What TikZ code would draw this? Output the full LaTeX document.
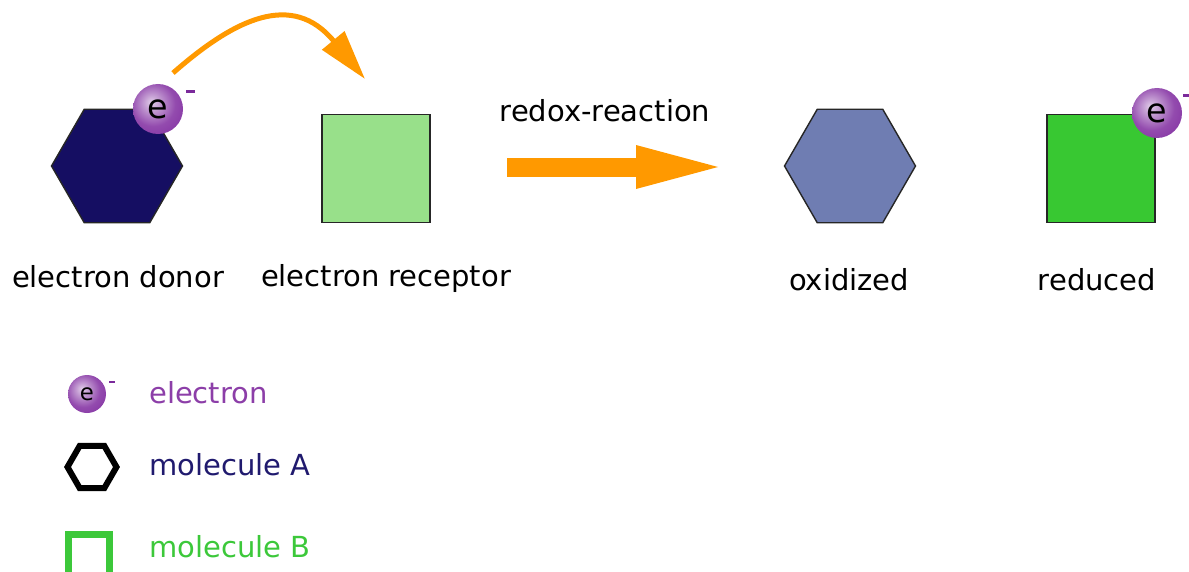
\documentclass[tikz,border=0pt]{standalone}
\usepackage{fontspec}
\setmainfont{DejaVu Sans}
\usetikzlibrary{arrows.meta, shapes.geometric}

\definecolor{donorblue}{RGB}{21,14,98}
\definecolor{oxblue}{RGB}{111,125,178}
\definecolor{recgreen}{RGB}{152,224,138}
\definecolor{redgreen}{RGB}{56,200,50}
\definecolor{hoporange}{RGB}{255,153,0}
\definecolor{epurple}{RGB}{135,55,165}
\definecolor{minuspurple}{RGB}{123,42,155}
\definecolor{txtpurple}{RGB}{140,62,168}
\definecolor{txtnavy}{RGB}{32,26,110}
\definecolor{txtgreen}{RGB}{60,200,58}

\pgfdeclareradialshading{eball}{\pgfpoint{-7bp}{7bp}}{%
  color(0bp)=(epurple!25!white);
  color(8bp)=(epurple!50!white);
  color(22bp)=(epurple!90!white);
  color(34bp)=(epurple);
  color(46bp)=(epurple!85!black);
  color(70bp)=(epurple!85!black)}

\tikzset{
  molhex/.style={regular polygon, regular polygon sides=6, minimum size=2.62cm,
    inner sep=0pt, draw=black!85, line width=0.8pt},
  molsq/.style={rectangle, minimum size=2.16cm, inner sep=0pt, draw=black!85, line width=0.8pt},
  electron/.style={circle, minimum size=1cm, inner sep=0pt, shading=eball,
    font=\fontsize{19}{19}\selectfont},
  eminus/.style={fill=minuspurple, minimum width=0.18cm, minimum height=0.06cm, inner sep=0pt},
  lbl/.style={font=\fontsize{16.5}{20}\selectfont, anchor=base},
  legtxt/.style={font=\fontsize{16.5}{20}\selectfont, anchor=base west},
}

\begin{document}
\begin{tikzpicture}
  \useasboundingbox (0,0) rectangle (23.78,11.42);

  % before
  \node[molhex, fill=donorblue] (donor) at (2.34,8.10) {};
  \node[molsq, fill=recgreen] (recep) at (7.52,8.05) {};
  \node[electron] (don-e) at (3.16,9.24) {e};
  \node[eminus] (don-m) at (3.81,9.58) {};

  % electron hop
  \coordinate (hop-a) at (3.46,9.96);
  \coordinate (hop-b) at (7.30,9.84);
  \draw[hoporange, line width=0.1cm, -{Triangle[length=1cm, width=0.56cm]}]
    (hop-a) .. controls (4.7,11.05) and (5.85,11.6) .. (hop-b);

  \node[lbl] (don-lbl) at (2.36,5.68) {electron donor};
  \node[lbl] (rec-lbl) at (7.72,5.70) {electron receptor};

  % reaction arrow
  \coordinate (react-a) at (10.14,8.08);
  \coordinate (react-b) at (14.36,8.08);
  \draw[hoporange, line width=0.38cm,
    -{Triangle[length=1.64cm, width=0.88cm, line width=0pt]}] (react-a) -- (react-b);
  \node[lbl] (react-lbl) at (12.10,9.00) {redox-reaction};

  % after
  \node[molhex, fill=oxblue] (oxid) at (17.00,8.10) {};
  \node[molsq, fill=redgreen] (reduc) at (22.02,8.05) {};
  \node[electron] (red-e) at (23.14,9.16) {e};
  \node[eminus] (red-m) at (23.75,9.51) {};

  \node[lbl] (ox-lbl) at (16.98,5.62) {oxidized};
  \node[lbl] (red-lbl) at (21.94,5.62) {reduced};

  % legend
  \node[electron, minimum size=0.76cm, font=\fontsize{13}{13}\selectfont] (leg-e) at (1.74,3.54) {e};
  \node[eminus, minimum width=0.12cm, minimum height=0.05cm] (leg-m) at (2.24,3.78) {};
  \node[legtxt, txtpurple] (leg-e-lbl) at (2.86,3.36) {electron};

  \node[regular polygon, regular polygon sides=6, minimum size=0.98cm, inner sep=0pt,
    draw=black, line width=0.12cm] (leg-a) at (1.84,2.08) {};
  \node[legtxt, txtnavy] (leg-a-lbl) at (2.86,1.92) {molecule A};

  \node[rectangle, minimum size=0.82cm, inner sep=0pt, draw=txtgreen, line width=0.14cm]
    (leg-b) at (1.77,0.33) {};
  \node[legtxt, txtgreen] (leg-b-lbl) at (2.86,0.28) {molecule B};
\end{tikzpicture}
\end{document}
